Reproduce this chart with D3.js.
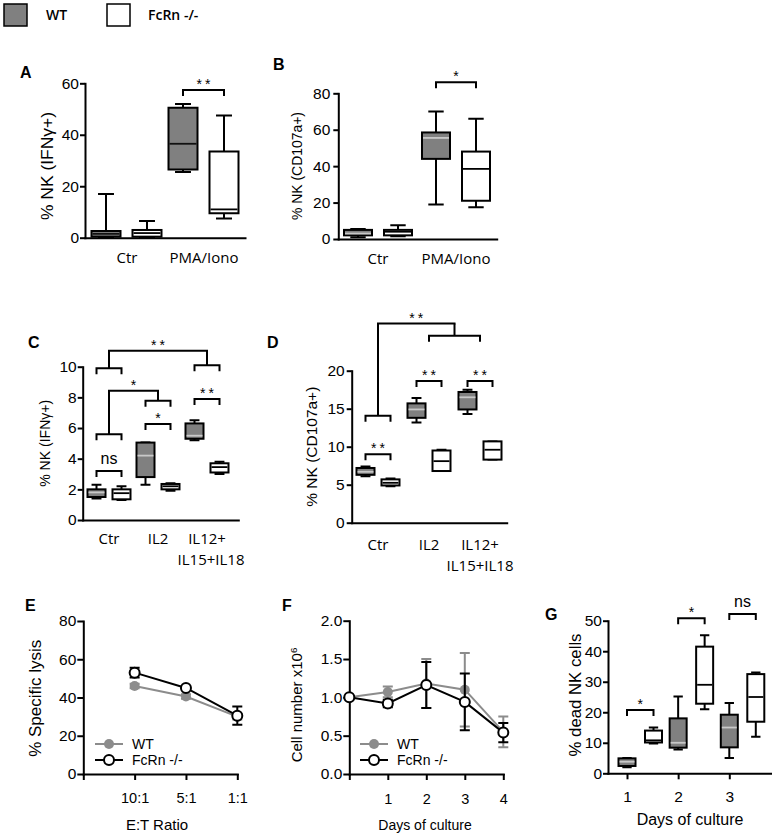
<!DOCTYPE html>
<html>
<head>
<meta charset="utf-8">
<script src="https://cdnjs.cloudflare.com/ajax/libs/d3/7.8.5/d3.min.js"></script>
<style>
  body { margin: 0; background: #fff; }
  svg { display: block; }
  .tick text, .lbl { font-family: "Liberation Sans", Arial, sans-serif; fill: #000; }
  .cat, .leg { font-family: "Open Sans", "Noto Sans", sans-serif; fill: #000; }
  .domain, .tick line { stroke: #000; stroke-width: 2; }
</style>
</head>
<body>
<script>
// ---------- data ----------
var series = ['WT', 'FcRn -/-'];

// box plots: [min, q1, median, q3, max] per group
var groupsA = [['Ctr'], ['PMA/Iono']];
var wtA = [[0, 0.4, 1.5, 2.6, 17], [25.5, 26.5, 36.5, 50.5, 52]];
var koA = [[0, 0.4, 1.8, 3, 6.5], [7.5, 9.5, 11, 33.5, 47.5]];
var sigA = [{g: 1, y: 57.4, label: '**'}];

var groupsB = [['Ctr'], ['PMA/Iono']];
var wtB = [[1, 2, 3, 5, 5.5], [19, 44, 55.5, 58.5, 70]];
var koB = [[1.5, 2, 4, 5, 7.5], [17.5, 21, 38.5, 48, 66]];
var sigB = [{g: 1, y: 86, label: '*'}];

var groupsC = [['Ctr'], ['IL2'], ['IL12+', 'IL15+IL18']];
var wtC = [[1.4, 1.5, 1.8, 2.0, 2.3], [2.3, 2.8, 4.2, 5.05, 5.05], [5.2, 5.3, 5.5, 6.3, 6.5]];
var koC = [[1.3, 1.35, 1.75, 2.0, 2.2], [1.9, 2.0, 2.2, 2.35, 2.4], [3.0, 3.1, 3.45, 3.7, 3.8]];
var sigC = [{g: 0, y: 3.2, label: 'ns'}, {g: 1, y: 6.26, label: '*'}, {g: 2, y: 7.9, label: '**'}];
var linksC = [
  {left: {from: [0, 0], to: [0, 1], y: 5.6}, right: {from: [1, 0], to: [1, 1], y: 7.78}, top: 8.43, label: '*'},
  {left: {from: [0, 0], to: [0, 1], y: 9.9}, right: {from: [2, 0], to: [2, 1], y: 10.1}, top: 11.04, label: '**'}
];

var groupsD = [['Ctr'], ['IL2'], ['IL12+', 'IL15+IL18']];
var wtD = [[6.1, 6.3, 6.7, 7.2, 7.4], [13.2, 13.8, 14.9, 15.7, 16.4], [14.3, 14.9, 16.5, 17.2, 17.5]];
var koD = [[4.8, 4.9, 5.25, 5.7, 5.8], [6.8, 6.8, 8.1, 9.5, 9.6], [8.3, 8.3, 9.6, 10.7, 10.7]];
var sigD = [{g: 0, y: 9.0, label: '**'}, {g: 1, y: 18.64, label: '**'}, {g: 2, y: 18.64, label: '**'}];
var linksD = [
  {left: {from: [0, 0], to: [0, 1], y: 14.08}, right: {from: [1], to: [2], y: 24.6}, top: 26.2, label: '**'}
];

var groupsG = [['1'], ['2'], ['3']];
var wtG = [[2, 2.4, 3.8, 4.9, 5], [7.8, 8.4, 10, 18, 25.2], [5, 8.5, 15, 19.2, 23]];
var koG = [[9.8, 10.1, 10.8, 14, 15], [21, 22.8, 29, 41.5, 45.2], [12, 16.9, 25, 32.5, 33]];
var sigG = [{g: 0, y: 20.7, label: '*'}, {g: 1, y: 50.8, label: '*'}, {g: 2, y: 52.2, label: 'ns'}];

// line charts: mean and error
var ratiosE = ['10:1', '5:1', '1:1'];
var wtE = [46, 40.5, 30];
var wtEerr = [1.2, 1.2, 1.5];
var koE = [53, 45, 30.5];
var koEerr = [2.5, 1, 4.8];

var daysF = [0, 1, 2, 3, 4];
var wtF = [1.0, 1.07, 1.18, 1.10, 0.55];
var wtFerr = [0, 0.07, 0.32, 0.48, 0.2];
var koF = [1.0, 0.92, 1.16, 0.94, 0.54];
var koFerr = [0, 0.05, 0.3, 0.37, 0.125];

// ---------- drawing ----------
var GRAY_FILL = '#808080', GRAY_LINE = '#8c8c8c', STAR = '#555';

var svg = d3.select('body').append('svg')
  .attr('width', 772).attr('height', 840);

// top legend
var topLeg = svg.append('g');
series.forEach(function (s, i) {
  topLeg.append('rect')
    .attr('x', 4 + i * 103).attr('y', 4).attr('width', 23).attr('height', 22)
    .attr('fill', i ? '#fff' : GRAY_FILL).attr('stroke', '#000').attr('stroke-width', 1.5);
  topLeg.append('text').attr('class', 'leg')
    .attr('x', 46 + i * 102).attr('y', 20)
    .style('font-size', '14px').style('font-weight', 600)
    .text(s);
});

function styleAxis(sel, fs) {
  sel.selectAll('.tick text').style('font-size', fs + 'px');
  sel.selectAll('.domain').attr('stroke-linecap', 'square');
}

function panelText(g, c) {
  g.append('text').attr('class', 'lbl')
    .attr('x', c.lx).attr('y', c.ly)
    .style('font-size', '16px').style('font-weight', 'bold')
    .text(c.letter);
  var yl = g.append('text').attr('class', 'lbl')
    .attr('transform', 'translate(' + c.ylx + ',' + c.yly + ') rotate(-90)')
    .attr('text-anchor', 'middle').attr('dy', '0.35em')
    .style('font-size', c.ylSize + 'px');
  if (c.ylLen) yl.attr('textLength', c.ylLen).attr('lengthAdjust', 'spacingAndGlyphs');
  if (c.ylSup) {
    yl.append('tspan').text(c.ylab);
    yl.append('tspan').attr('baseline-shift', 'super').style('font-size', (c.ylSize * 0.65) + 'px').text(c.ylSup);
  } else {
    yl.text(c.ylab);
  }
}

function drawBoxPanel(c) {
  var g = svg.append('g');
  var n = c.groups.length;
  var xi = d3.scaleLinear().domain([0, n - 1]).range([c.g0, c.g1]);
  var x = d3.scaleLinear().domain([xi.invert(c.x0), xi.invert(c.x1)]).range([c.x0, c.x1]);
  var y = d3.scaleLinear().domain([0, c.yMax]).range([c.yBot, c.yTop]);
  var px = function (gi, si) { return x(gi) + c.off[si]; };
  var ref = function (r) { return r.length > 1 ? px(r[0], r[1]) : x(r[0]); };

  var ya = g.append('g').attr('transform', 'translate(' + c.x0 + ',0)')
    .call(d3.axisLeft(y)
      .tickValues(d3.range(0, c.yMax + c.yStep / 2, c.yStep))
      .tickSize(5).tickSizeOuter(0).tickPadding(c.yPad)
      .tickFormat(d3.format('d')));
  styleAxis(ya, c.tickFs);

  var xa = g.append('g').attr('transform', 'translate(0,' + c.yBot + ')')
    .call(d3.axisBottom(x)
      .tickValues(c.xTicks ? d3.range(n) : [])
      .tickSize(6).tickSizeOuter(0).tickPadding(c.xPad || 3)
      .tickFormat(function (i) { return c.groups[i][0]; }));
  styleAxis(xa, c.tickFs);

  if (!c.xTicks) {
    c.groups.forEach(function (lines, i) {
      lines.forEach(function (s, k) {
        g.append('text').attr('class', 'cat')
          .attr('x', x(i) + (k ? c.catShift : 0)).attr('y', c.catY + k * c.catDy)
          .attr('text-anchor', 'middle').style('font-size', '15px')
          .text(s);
      });
    });
  }

  // boxes
  [c.wt, c.ko].forEach(function (set, si) {
    var bw = c.bw, cw = c.bw * 0.55;
    var b = g.selectAll(null).data(set).enter().append('g');
    b.append('path')
      .attr('d', function (d, i) {
        var cx = px(i, si);
        return 'M' + cx + ',' + y(d[4]) + 'V' + y(d[0]) +
          'M' + (cx - cw / 2) + ',' + y(d[4]) + 'H' + (cx + cw / 2) +
          'M' + (cx - cw / 2) + ',' + y(d[0]) + 'H' + (cx + cw / 2);
      })
      .attr('fill', 'none').attr('stroke', '#000').attr('stroke-width', 2);
    b.append('rect')
      .attr('x', function (d, i) { return px(i, si) - bw / 2; })
      .attr('y', function (d) { return y(d[3]); })
      .attr('width', bw)
      .attr('height', function (d) { return Math.max(0, y(d[1]) - y(d[3])); })
      .attr('fill', si ? '#fff' : GRAY_FILL)
      .attr('stroke', '#000').attr('stroke-width', 2);
    b.append('line')
      .attr('x1', function (d, i) { return px(i, si) - bw / 2 + 1; })
      .attr('x2', function (d, i) { return px(i, si) + bw / 2 - 1; })
      .attr('y1', function (d) { return y(d[2]); })
      .attr('y2', function (d) { return y(d[2]); })
      .attr('stroke', si ? '#000' : c.wtMed).attr('stroke-width', 1.8);
  });

  function bracket(xa, xb, yy) {
    g.append('path')
      .attr('d', 'M' + xa + ',' + (yy + 6) + 'V' + yy + 'H' + xb + 'V' + (yy + 6))
      .attr('fill', 'none').attr('stroke', '#000').attr('stroke-width', 2);
  }
  function label(xm, yy, s) {
    var ns = s === 'ns';
    g.append('text').attr('class', 'lbl')
      .attr('x', xm).attr('y', ns ? yy - 7 : yy - 1)
      .attr('text-anchor', 'middle')
      .style('font-size', ns ? '16px' : '14px')
      .style('letter-spacing', ns ? '0px' : '3px')
      .attr('fill', ns ? '#222' : STAR)
      .text(s);
  }

  (c.sig || []).forEach(function (s) {
    var xa = px(s.g, 0), xb = px(s.g, 1), yy = y(s.y);
    bracket(xa, xb, yy);
    label((xa + xb) / 2 + (s.label === 'ns' ? 0 : 1.5), yy, s.label);
  });

  (c.links || []).forEach(function (l) {
    var yt = y(l.top);
    var mids = [l.left, l.right].map(function (side) {
      var xa = ref(side.from), xb = ref(side.to), yy = y(side.y);
      bracket(xa, xb, yy);
      var m = (xa + xb) / 2;
      g.append('line').attr('x1', m).attr('x2', m).attr('y1', yy).attr('y2', yt)
        .attr('stroke', '#000').attr('stroke-width', 2);
      return m;
    });
    g.append('line').attr('x1', mids[0] - 1).attr('x2', mids[1] + 1).attr('y1', yt).attr('y2', yt)
      .attr('stroke', '#000').attr('stroke-width', 2);
    label((mids[0] + mids[1]) / 2 + 1.5, yt, l.label);
  });

  panelText(g, c);
}

function drawLinePanel(c) {
  var g = svg.append('g');
  var x = d3.scaleLinear().domain([0, c.xMax]).range([c.x0, c.x1]);
  var y = d3.scaleLinear().domain([0, c.yMax]).range([c.yBot, c.yTop]);

  var ya = g.append('g').attr('transform', 'translate(' + c.x0 + ',0)')
    .call(d3.axisLeft(y)
      .tickValues(d3.range(0, c.yMax + c.yStep / 2, c.yStep))
      .tickSize(6).tickSizeOuter(0).tickPadding(c.yPad)
      .tickFormat(c.fmt));
  styleAxis(ya, c.yTickFs);

  var xa = g.append('g').attr('transform', 'translate(0,' + c.yBot + ')')
    .call(d3.axisBottom(x)
      .tickValues(d3.range(0, c.xMax + 1))
      .tickSize(6).tickSizeOuter(0).tickPadding(c.xPad)
      .tickFormat(function (v) { return c.xLabels[v] || ''; }));
  styleAxis(xa, c.xTickFs);

  g.append('text').attr('class', 'lbl')
    .attr('x', c.xtx).attr('y', c.xty).attr('text-anchor', 'middle')
    .style('font-size', c.xtFs + 'px').text(c.xTitle);

  var sets = [
    {v: c.wt, e: c.wtErr, col: GRAY_LINE, open: false},
    {v: c.ko, e: c.koErr, col: '#000', open: true}
  ];
  sets.forEach(function (s, si) {
    var pts = s.v.map(function (v, i) { return {x: c.xs[i], y: v, e: s.e[i]}; });
    g.append('path')
      .attr('d', pts.filter(function (p) { return p.e > 0; }).map(function (p) {
        var cx = x(p.x), t = y(p.y + p.e), b = y(p.y - p.e);
        return 'M' + (cx - 5) + ',' + t + 'H' + (cx + 5) + 'M' + cx + ',' + t + 'V' + b +
          'M' + (cx - 5) + ',' + b + 'H' + (cx + 5);
      }).join(''))
      .attr('fill', 'none').attr('stroke', s.col).attr('stroke-width', 2);
    g.append('path').datum(pts)
      .attr('d', d3.line().x(function (p) { return x(p.x); }).y(function (p) { return y(p.y); }))
      .attr('fill', 'none').attr('stroke', s.col).attr('stroke-width', 2);
    g.selectAll(null).data(pts).enter().append('circle')
      .attr('cx', function (p) { return x(p.x); })
      .attr('cy', function (p) { return y(p.y); })
      .attr('r', 5)
      .attr('fill', s.open ? '#fff' : s.col)
      .attr('stroke', s.open ? '#000' : 'none')
      .attr('stroke-width', 2);

    // legend
    var ly = c.legY + si * 16;
    g.append('line').attr('x1', c.legX).attr('x2', c.legX + 28).attr('y1', ly).attr('y2', ly)
      .attr('stroke', s.col).attr('stroke-width', 2);
    g.append('circle').attr('cx', c.legX + 14).attr('cy', ly).attr('r', 5)
      .attr('fill', s.open ? '#fff' : s.col)
      .attr('stroke', s.open ? '#000' : 'none').attr('stroke-width', 2);
    g.append('text').attr('class', 'lbl')
      .attr('x', c.legX + 37).attr('y', ly + 5)
      .style('font-size', '14px').text(series[si]);
  });

  panelText(g, c);
}

drawBoxPanel({
  groups: groupsA, wt: wtA, ko: koA, sig: sigA,
  x0: 85, x1: 245, g0: 127, g1: 204, off: [-21, 20], bw: 29,
  yMax: 60, yStep: 20, yTop: 83.3, yBot: 237.7, yPad: 1, tickFs: 15.5,
  catY: 263, catDy: 18, catShift: 0, wtMed: '#111',
  letter: 'A', lx: 20, ly: 78,
  ylab: '% NK (IFNγ+)', ylx: 47.5, yly: 166, ylLen: 108, ylSize: 16
});

drawBoxPanel({
  groups: groupsB, wt: wtB, ko: koB, sig: sigB,
  x0: 338.3, x1: 496.7, g0: 378, g1: 456, off: [-20, 20], bw: 28,
  yMax: 80, yStep: 20, yTop: 93.3, yBot: 239, yPad: 3, tickFs: 15.5,
  catY: 263.5, catDy: 18, catShift: 0, wtMed: '#c8c8c8',
  letter: 'B', lx: 273, ly: 70,
  ylab: '% NK (CD107a+)', ylx: 297, yly: 166, ylLen: 108, ylSize: 14
});

drawBoxPanel({
  groups: groupsC, wt: wtC, ko: koC, sig: sigC, links: linksC,
  x0: 82.7, x1: 238.3, g0: 109, g1: 207, off: [-12.5, 12.5], bw: 18,
  yMax: 10, yStep: 2, yTop: 366.7, yBot: 520, yPad: 1, tickFs: 15.5,
  catY: 543.5, catDy: 21.5, catShift: 4, wtMed: '#c8c8c8',
  letter: 'C', lx: 28, ly: 348,
  ylab: '% NK (IFNγ+)', ylx: 45, yly: 443.3, ylLen: 87, ylSize: 14
});

drawBoxPanel({
  groups: groupsD, wt: wtD, ko: koD, sig: sigD, links: linksD,
  x0: 351.7, x1: 506.7, g0: 378, g1: 480, off: [-12.5, 12.5], bw: 18,
  yMax: 20, yStep: 5, yTop: 370.7, yBot: 522.7, yPad: 2, tickFs: 15.5,
  catY: 549.5, catDy: 21, catShift: 0, wtMed: '#c8c8c8',
  letter: 'D', lx: 267, ly: 348,
  ylab: '% NK (CD107a+)', ylx: 311.7, yly: 446.7, ylLen: 120, ylSize: 15
});

drawBoxPanel({
  groups: groupsG, wt: wtG, ko: koG, sig: sigG,
  x0: 608, x1: 772, g0: 627, g1: 729.3, off: [0, 26.5], bw: 17,
  yMax: 50, yStep: 10, yTop: 620.7, yBot: 773.3, yPad: 1, tickFs: 15.5,
  xTicks: true, xPad: 12, wtMed: '#c8c8c8',
  letter: 'G', lx: 545, ly: 620,
  ylab: '% dead NK cells', ylx: 575, yly: 695, ylLen: 123, ylSize: 17
});
svg.append('text').attr('class', 'lbl')
  .attr('x', 690).attr('y', 825).attr('text-anchor', 'middle')
  .style('font-size', '16px').text('Days of culture');

drawLinePanel({
  xs: [1, 2, 3], xLabels: [''].concat(ratiosE), xMax: 3,
  wt: wtE, wtErr: wtEerr, ko: koE, koErr: koEerr,
  x0: 83.3, x1: 237.3, yMax: 80, yStep: 20, yTop: 621, yBot: 774,
  yPad: 1, xPad: 13, yTickFs: 15.5, xTickFs: 14.5, fmt: d3.format('d'),
  xTitle: 'E:T Ratio', xtx: 157, xty: 830, xtFs: 15,
  legX: 95, legY: 744,
  letter: 'E', lx: 25, ly: 611,
  ylab: '% Specific lysis', ylx: 35, yly: 698.3, ylLen: 117, ylSize: 17
});

drawLinePanel({
  xs: daysF, xLabels: daysF.map(function (d) { return d ? String(d) : ''; }), xMax: 4,
  wt: wtF, wtErr: wtFerr, ko: koF, koErr: koFerr,
  x0: 349.3, x1: 503.3, yMax: 2, yStep: 0.5, yTop: 620.7, yBot: 774,
  yPad: 1, xPad: 14, yTickFs: 15.5, xTickFs: 14.5, fmt: d3.format('.1f'),
  xTitle: 'Days of culture', xtx: 425, xty: 830, xtFs: 14,
  legX: 360, legY: 744,
  letter: 'F', lx: 282, ly: 611,
  ylab: 'Cell number x10', ylSup: '6', ylx: 296.5, yly: 705, ylSize: 15
});
</script>
</body>
</html>
